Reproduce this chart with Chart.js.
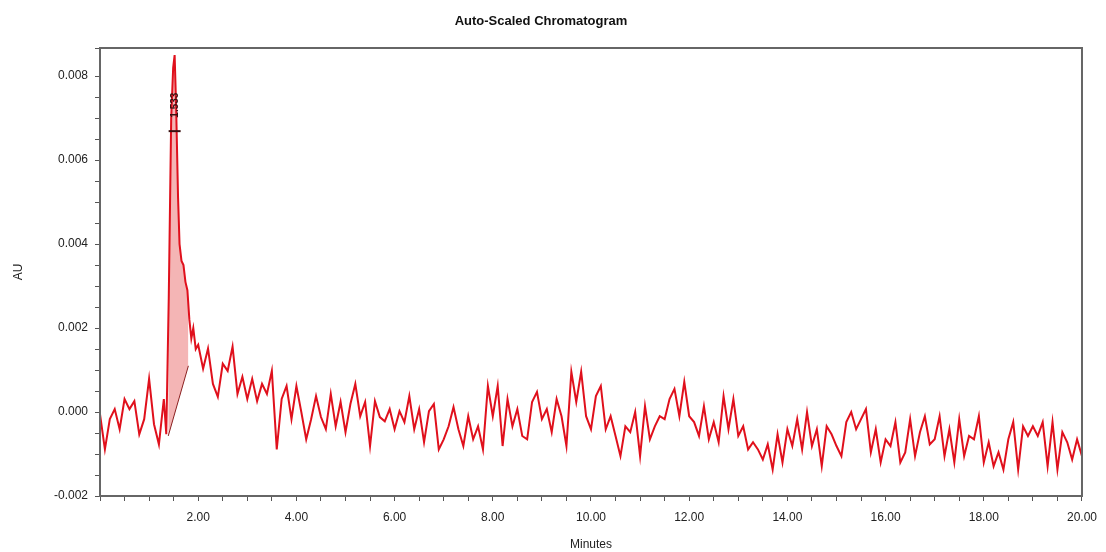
<!DOCTYPE html>
<html>
<head>
<meta charset="utf-8">
<script src="https://cdn.jsdelivr.net/npm/chart.js@4"></script>
<style>
  html, body { margin: 0; padding: 0; background: #fff; }
  #wrap { width: 1106px; height: 552px; }
</style>
</head>
<body>
<div id="wrap"><canvas id="chromChart" width="1106" height="552"></canvas></div>
<script>
// retention time (min) and absorbance (AU)
const times = [
  0.0, 0.1, 0.2, 0.3, 0.4, 0.5, 0.6, 0.7, 0.8, 0.9, 1.0, 1.1, 1.2, 1.3, 1.35,
  1.40, 1.45, 1.49, 1.52, 1.55, 1.59, 1.62, 1.66, 1.70, 1.74, 1.78, 1.82, 1.86, 1.90, 1.95, 2.0,
  2.1, 2.2, 2.3, 2.4, 2.5, 2.6, 2.7, 2.8, 2.9, 3.0, 3.1, 3.2, 3.3, 3.4, 3.5, 3.6, 3.7, 3.8, 3.9, 4.0,
  4.1, 4.2, 4.3, 4.4, 4.5, 4.6, 4.7, 4.8, 4.9, 5.0, 5.1, 5.2, 5.3, 5.4, 5.5, 5.6, 5.7, 5.8, 5.9, 6.0,
  6.1, 6.2, 6.3, 6.4, 6.5, 6.6, 6.7, 6.8, 6.9, 7.0, 7.1, 7.2, 7.3, 7.4, 7.5, 7.6, 7.7, 7.8, 7.9, 8.0,
  8.1, 8.2, 8.3, 8.4, 8.5, 8.6, 8.7, 8.8, 8.9, 9.0, 9.1, 9.2, 9.3, 9.4, 9.5, 9.6, 9.7, 9.8, 9.9, 10.0,
  10.1, 10.2, 10.3, 10.4, 10.5, 10.6, 10.7, 10.8, 10.9, 11.0, 11.1, 11.2, 11.3, 11.4, 11.5, 11.6, 11.7, 11.8, 11.9, 12.0,
  12.1, 12.2, 12.3, 12.4, 12.5, 12.6, 12.7, 12.8, 12.9, 13.0, 13.1, 13.2, 13.3, 13.4, 13.5, 13.6, 13.7, 13.8, 13.9, 14.0,
  14.1, 14.2, 14.3, 14.4, 14.5, 14.6, 14.7, 14.8, 14.9, 15.0, 15.1, 15.2, 15.3, 15.4, 15.5, 15.6, 15.7, 15.8, 15.9, 16.0,
  16.1, 16.2, 16.3, 16.4, 16.5, 16.6, 16.7, 16.8, 16.9, 17.0, 17.1, 17.2, 17.3, 17.4, 17.5, 17.6, 17.7, 17.8, 17.9, 18.0,
  18.1, 18.2, 18.3, 18.4, 18.5, 18.6, 18.7, 18.8, 18.9, 19.0, 19.1, 19.2, 19.3, 19.4, 19.5, 19.6, 19.7, 19.8, 19.9, 20.0
];
const absorbance = [
  -0.00005, -0.00089, -0.00017, 0.00007, -0.00041, 0.00031, 0.00007, 0.00026, -0.00053, -0.00017, 0.00079, -0.00029, -0.00077, 0.00031, -0.00053,
  0.0027, 0.0070, 0.0082, 0.0085, 0.0073, 0.0051, 0.0040, 0.0036, 0.0035, 0.0031, 0.0029, 0.0022, 0.00175, 0.0020, 0.0015, 0.0016,
  0.00103, 0.00151, 0.00067, 0.00036, 0.00115, 0.00098, 0.00156, 0.00043, 0.00084, 0.00031, 0.00079, 0.00026, 0.00067, 0.00043, 0.00098, -0.00089, 0.00031, 0.00062, -0.00017, 0.00062,
  0.0, -0.00065, -0.00017, 0.00038, -0.00012, -0.00041, 0.00043, -0.00034, 0.00024, -0.00048, 0.00019, 0.00067, -0.0001, 0.00024, -0.00081, 0.00026, -0.00012, -0.00022, 0.00007, -0.00041,
  0.00002, -0.00024, 0.00038, -0.00041, 0.00007, -0.00072, 0.00002, 0.00019, -0.00089, -0.00065, -0.00034, 0.00012, -0.00041, -0.00081, -0.0001, -0.00065, -0.00034, -0.00089, 0.00062, -0.0001,
  0.00062, -0.00081, 0.00031, -0.00034, 0.00007, -0.00057, -0.00065, 0.00024, 0.00048, -0.00017, 0.00007, -0.00048, 0.00031, -0.0001, -0.00081, 0.00096, 0.00024, 0.00096, -0.0001, -0.00041,
  0.00038, 0.00062, -0.00041, -0.0001, -0.00057, -0.00105, -0.00034, -0.00048, 0.0, -0.00105, 0.00014, -0.00065, -0.00034, -0.0001, -0.00017, 0.00031, 0.00055, -0.0001, 0.00072, -0.0001,
  -0.00024, -0.00057, 0.00014, -0.00065, -0.00024, -0.00072, 0.00038, -0.00041, 0.00031, -0.00057, -0.00034, -0.00089, -0.00072, -0.00089, -0.00113, -0.00077, -0.00137, -0.00053, -0.0012, -0.00041,
  -0.00081, -0.00017, -0.00089, 0.0, -0.00081, -0.00041, -0.00129, -0.00034, -0.00053, -0.00081, -0.00105, -0.00024, 0.0, -0.00041, -0.00017, 0.00007, -0.00096, -0.00041, -0.0012, -0.00065,
  -0.00081, -0.00024, -0.0012, -0.00096, -0.00017, -0.00105, -0.00048, -0.0001, -0.00077, -0.00065, -0.0001, -0.00105, -0.00041, -0.0012, -0.00017, -0.00105, -0.00057, -0.00065, -0.0001, -0.0012,
  -0.00072, -0.00129, -0.00096, -0.00137, -0.00065, -0.00024, -0.00137, -0.00034, -0.00057, -0.00034, -0.00057, -0.00024, -0.00129, -0.00024, -0.00137, -0.00048, -0.00072, -0.00113, -0.00065, -0.00105
];

// integration baseline under the peak
const baseTimes = [1.39, 1.80];
const baseValues = [-0.00057, 0.0011];

// peak label
const peakTime = 1.52;
const peakValue = 0.0085;
const peakLabel = "1.533";

const ctx = document.getElementById("chromChart");

const frame = {
  id: "frame",
  afterDatasetsDraw(chart) {
    const a = chart.chartArea;
    const c = chart.ctx;
    c.save();
    c.strokeStyle = "#666";
    c.lineWidth = 2;
    c.strokeRect(a.left, a.top, a.right - a.left, a.bottom - a.top);
    // peak annotation
    const x = chart.scales.x.getPixelForValue(peakTime);
    const y = chart.scales.y.getPixelForValue(peakValue);
    c.fillStyle = "#3a1010";
    c.font = "bold 10px 'Liberation Sans', Arial";
    c.translate(x + 1, y + 50);
    c.rotate(-Math.PI / 2);
    c.textAlign = "center";
    c.textBaseline = "middle";
    c.fillText(peakLabel, 0, 0);
    c.restore();
    c.save();
    c.strokeStyle = "#3a1010";
    c.lineWidth = 2;
    c.beginPath();
    c.moveTo(x - 6, y + 76);
    c.lineTo(x + 6, y + 76);
    c.stroke();
    c.restore();
  }
};

new Chart(ctx, {
  type: "line",
  data: {
    datasets: [
      {
        label: "Chromatogram",
        data: times.map((t, i) => ({ x: t, y: absorbance[i] })),
        borderColor: "#e0101c",
        borderWidth: 2,
        pointRadius: 0,
        tension: 0,
        fill: false,
        order: 1
      },
      {
        label: "Baseline",
        data: baseTimes.map((t, i) => ({ x: t, y: baseValues[i] })),
        borderColor: "#8a2020",
        borderWidth: 1,
        pointRadius: 0,
        fill: { target: 0 },
        backgroundColor: "rgba(240,150,150,0.7)",
        order: 2
      }
    ]
  },
  options: {
    responsive: false,
    animation: false,
    layout: { padding: { left: 0, right: 24, top: 0, bottom: 0 } },
    plugins: {
      legend: { display: false },
      tooltip: { enabled: false },
      title: {
        display: true,
        text: "Auto-Scaled Chromatogram",
        color: "#111",
        font: { family: "'Liberation Sans', Arial", size: 13, weight: "bold" },
        padding: { top: 14, bottom: 18.4 }
      }
    },
    scales: {
      x: {
        type: "linear",
        min: 0,
        max: 20,
        afterFit(scale) { scale.height = 56; },
        grid: { drawOnChartArea: false, color: "#555", tickLength: 5 },
        border: { display: true, color: "#555", width: 2 },
        ticks: {
          stepSize: 0.5,
          autoSkip: false,
          maxRotation: 0,
          color: "#222",
          padding: 9,
          font: { family: "'Liberation Sans', Arial", size: 12 },
          callback(v) {
            const k = Math.round(v / 0.5);
            return (k % 4 === 0 && k > 0) ? (k * 0.5).toFixed(2) : "";
          }
        },
        title: {
          display: true,
          text: "Minutes",
          color: "#222",
          font: { family: "'Liberation Sans', Arial", size: 12 },
          padding: { top: 0, bottom: 0 }
        }
      },
      y: {
        min: -0.002,
        max: 0.00867,
        afterFit(scale) { scale.width = 100; },
        grid: { drawOnChartArea: false, color: "#555", tickLength: 5 },
        border: { display: true, color: "#555", width: 2 },
        ticks: {
          stepSize: 0.0005,
          autoSkip: false,
          color: "#222",
          padding: 7,
          font: { family: "'Liberation Sans', Arial", size: 12 },
          callback(v) {
            const k = Math.round(v / 0.0005);
            return k % 4 === 0 ? (k * 0.0005).toFixed(3) : "";
          }
        },
        title: {
          display: true,
          text: "AU",
          color: "#222",
          font: { family: "'Liberation Sans', Arial", size: 12 },
          padding: { top: 11, bottom: 0 }
        }
      }
    }
  },
  plugins: [frame]
});
</script>
</body>
</html>
